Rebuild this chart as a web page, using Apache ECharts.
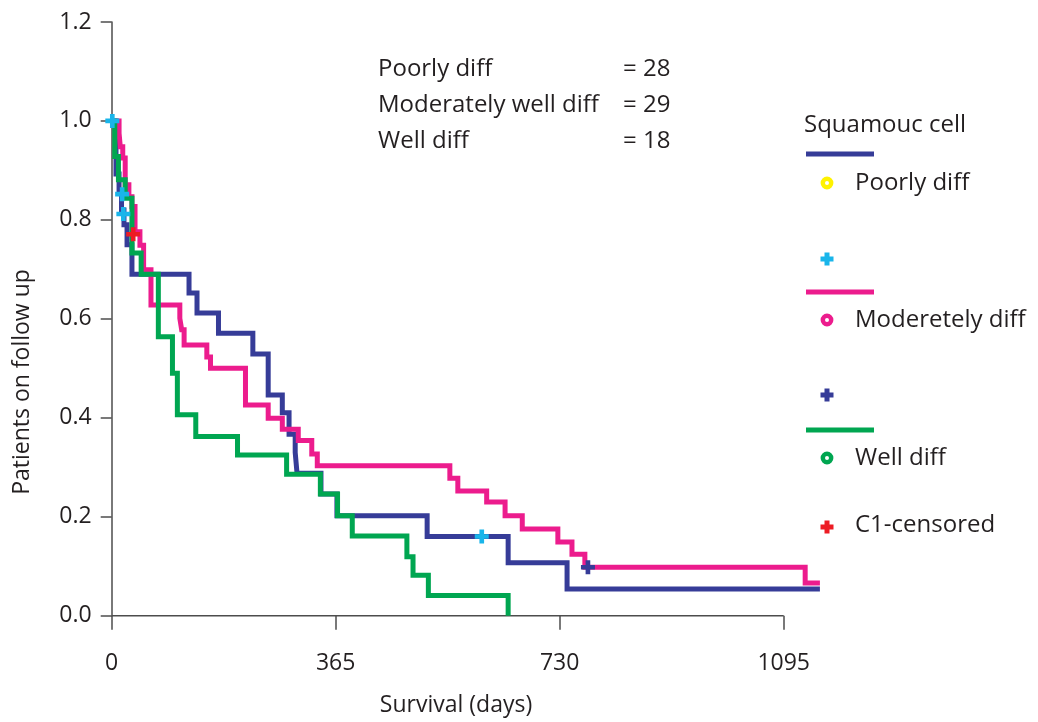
<!DOCTYPE html>
<html><head><meta charset="utf-8">
<script src="https://cdn.jsdelivr.net/npm/echarts@6/dist/echarts.min.js"></script>
<style>html,body{margin:0;padding:0;background:#fff}#c{width:1038px;height:722px}</style>
</head><body><div id="c"></div>
<script>
// ---- data (days, survival proportion) ----
const xTicks = [0, 365, 730, 1095];
const yTicks = [0.0, 0.2, 0.4, 0.6, 0.8, 1.0, 1.2];
const followUpEnd = 1160;

const poorlyDays = [0, 7, 12, 16, 20, 25, 33, 126, 139, 174, 230, 255, 278, 289, 299, 302, 341, 367, 514, 646, 742, 1154];
const poorlyVals = [1, 0.893, 0.857, 0.82, 0.79, 0.75, 0.69, 0.652, 0.612, 0.571, 0.529, 0.446, 0.41, 0.367, 0.33, 0.288, 0.246, 0.202, 0.16, 0.107, 0.054, 0.054];

const modDays = [0, 12, 14, 18, 22, 28, 33, 38, 46, 52, 64, 111, 114, 118, 155, 161, 218, 255, 278, 304, 326, 335, 551, 564, 611, 641, 669, 727, 750, 771, 1130, 1154];
const modVals = [1, 0.975, 0.948, 0.925, 0.871, 0.847, 0.827, 0.776, 0.749, 0.699, 0.628, 0.601, 0.578, 0.547, 0.523, 0.5, 0.426, 0.399, 0.377, 0.354, 0.327, 0.303, 0.278, 0.252, 0.23, 0.202, 0.175, 0.149, 0.124, 0.098, 0.066, 0.066];

const wellDays = [0, 5, 11, 22, 33, 48, 76, 99, 107, 137, 205, 285, 340, 368, 392, 481, 491, 516, 646];
const wellVals = [1, 0.928, 0.881, 0.844, 0.733, 0.69, 0.564, 0.49, 0.406, 0.362, 0.325, 0.286, 0.246, 0.202, 0.161, 0.119, 0.082, 0.041, 0];

const poorlyCensDays = [1, 17, 19, 603];
const poorlyCensVals = [1.0, 0.852, 0.812, 0.16];
const modCensDays = [776];
const modCensVals = [0.098];
const wellCensDays = [35];
const wellCensVals = [0.771];

const countLabels = ['Poorly diff', 'Moderately well diff', 'Well diff'];
const countValues = ['= 28', '= 29', '= 18'];
// ------------------------------------------

const NAVY = '#363c98', MAG = '#ec1c8d', GREEN = '#00a651', CYAN = '#19b5ea', RED = '#ed1c24', YEL = '#fff200';
const TXT = '#231f20', AX = '#4d4d4d';
const FONT = '"Open Sans", "Noto Sans", sans-serif';
const FS = 23, FS2 = 24;
const PLUS = 'path://M3,0 H6 V3 H9 V6 H6 V9 H3 V6 H0 V3 H3 Z';

const zip = (a, b) => a.map((d, i) => [d, b[i]]);
const PX_PER_DAY = 672 / 1095;

const chart = echarts.init(document.getElementById('c'), null, {renderer: 'canvas'});

function lineSeries(name, days, vals, color, z) {
  return {name, type: 'line', step: 'end', data: zip(days, vals), symbol: 'none', clip: false,
    lineStyle: {color, width: 5, cap: 'butt', join: 'miter'}, z, animation: false, silent: true};
}
function censSeries(days, vals, color) {
  return {type: 'scatter', data: zip(days, vals), symbol: PLUS, symbolSize: 14, clip: false,
    itemStyle: {color, opacity: 1}, z: 10, animation: false, silent: true};
}

const legendTextX = 855, markX = 827;
const graphic = [];
const txt = (x, y, t, align) => ({type: 'text', x, y, style: {text: t, font: FS2 + 'px ' + FONT, fill: TXT, align: align || 'left', verticalAlign: 'middle'}});
// count annotation
const countY = [69, 105, 141];
countLabels.forEach((t, i) => {
  graphic.push(txt(378, countY[i], t));
  graphic.push(txt(623, countY[i], countValues[i]));
});
// legend
graphic.push(txt(804, 125, 'Squamouc cell'));
const legLines = [[154, NAVY], [292, MAG], [430, GREEN]];
legLines.forEach(([y, c]) => graphic.push({type: 'rect', shape: {x: 806, y: y - 2.5, width: 68, height: 5}, style: {fill: c}}));
const legCircles = [[183, YEL, 'Poorly diff'], [320, MAG, 'Moderetely diff'], [458, GREEN, 'Well diff']];
legCircles.forEach(([y, c, t]) => {
  graphic.push({type: 'circle', shape: {cx: markX, cy: y, r: 4.2}, style: {fill: '#fff', stroke: c, lineWidth: 4.4}});
  graphic.push(txt(legendTextX, y, t));
});
const legCross = [[259, CYAN], [395, NAVY], [527, RED]];
const cr = [[-2.5,-6.5],[2.5,-6.5],[2.5,-2.5],[6.5,-2.5],[6.5,2.5],[2.5,2.5],[2.5,6.5],[-2.5,6.5],[-2.5,2.5],[-6.5,2.5],[-6.5,-2.5],[-2.5,-2.5]];
legCross.forEach(([y, c]) => {
  graphic.push({type: 'polygon', shape: {points: cr.map(p => [p[0] + markX, p[1] + y])}, style: {fill: c}});
});
graphic.push(txt(legendTextX, 525, 'C1-censored'));
// axis titles
graphic.push({type: 'text', x: 456, y: 705, style: {text: 'Survival (days)', font: FS + 'px ' + FONT, fill: TXT, align: 'center', verticalAlign: 'middle'}});
graphic.push({type: 'text', x: 22, y: 382, rotation: Math.PI / 2, style: {text: 'Patients on follow up', font: FS + 'px ' + FONT, fill: TXT, align: 'center', verticalAlign: 'middle'}});

chart.setOption({
  animation: false,
  backgroundColor: '#fff',
  grid: {left: 111.7, top: 22, width: followUpEnd * PX_PER_DAY, height: 593.7, containLabel: false},
  xAxis: {type: 'value', min: xTicks[0], max: followUpEnd, interval: xTicks[1] - xTicks[0],
    axisLine: {show: false},
    axisTick: {show: true, inside: false, length: 14, customValues: xTicks, lineStyle: {color: AX, width: 1.5}},
    axisLabel: {color: TXT, fontSize: FS, fontFamily: FONT, margin: 36, customValues: xTicks, formatter: v => String(v)},
    splitLine: {show: false}},
  yAxis: {type: 'value', min: yTicks[0], max: yTicks[yTicks.length - 1], interval: 0.2,
    axisLine: {show: true, onZero: false, lineStyle: {color: AX, width: 1.5}},
    axisTick: {show: true, inside: false, length: 11, lineStyle: {color: AX, width: 1.5}},
    axisLabel: {color: TXT, fontSize: FS, fontFamily: FONT, margin: 20, formatter: v => v.toFixed(1)},
    splitLine: {show: false}},
  graphic,
  series: [
    {type: 'line', data: [[xTicks[0], yTicks[0]], [xTicks[xTicks.length - 1], yTicks[0]]], symbol: 'none', clip: false,
      lineStyle: {color: AX, width: 1.5}, z: 1, animation: false, silent: true},
    lineSeries('Poorly diff', poorlyDays, poorlyVals, NAVY, 2),
    lineSeries('Moderetely diff', modDays, modVals, MAG, 3),
    lineSeries('Well diff', wellDays, wellVals, GREEN, 4),
    censSeries(poorlyCensDays, poorlyCensVals, CYAN),
    censSeries(modCensDays, modCensVals, NAVY),
    censSeries(wellCensDays, wellCensVals, RED)
  ]
});
</script></body></html>
